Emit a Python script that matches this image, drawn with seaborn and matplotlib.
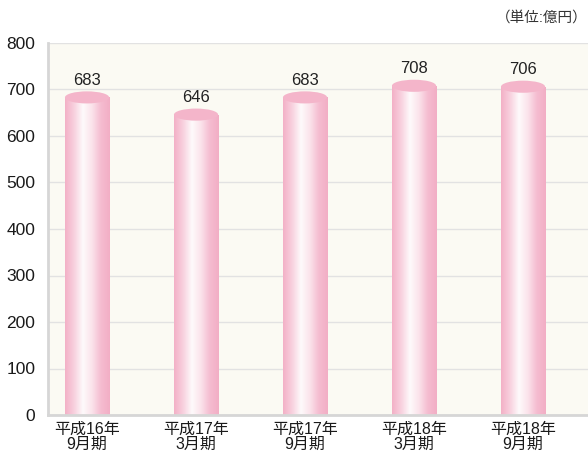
import numpy as np
import pandas as pd
import matplotlib
matplotlib.use("Agg")
import matplotlib.pyplot as plt
import seaborn as sns
from matplotlib.patches import Ellipse
from matplotlib.colors import LinearSegmentedColormap

categories = ["平成16年\n9月期", "平成17年\n3月期", "平成17年\n9月期", "平成18年\n3月期", "平成18年\n9月期"]
values = [683, 646, 683, 708, 706]
yticks = [0, 100, 200, 300, 400, 500, 600, 700, 800]
unit_label = "（単位:億円）"

sns.set_theme(style="white")
plt.rcParams['font.family'] = ['Liberation Sans', 'Noto Sans CJK JP', 'DejaVu Sans']

df = pd.DataFrame({"cat": categories, "val": values})

fig = plt.figure(figsize=(5.88, 4.62), dpi=100)
ax = fig.add_axes([48/588, 1-415/462, 1-48/588, (415-43)/462])
ax.set_facecolor("#fbfaf3")

sns.barplot(data=df, x="cat", y="val", ax=ax, width=0.405, color="#f4b6cb",
            saturation=1, zorder=3)

cmap = LinearSegmentedColormap.from_list(
    "cyl", ["#f3b0c6", "#f8d0de", "#fefafb", "#fbe3eb", "#f5bcd0", "#f2aec5"])
grad = np.linspace(0, 1, 256).reshape(1, -1)
ell_h = 26
for p, v in zip(ax.patches, values):
    x0 = p.get_x(); w = p.get_width()
    im = ax.imshow(grad, cmap=cmap, aspect="auto", extent=[x0, x0 + w, 0, v],
                   zorder=4, interpolation="bilinear")
    im.set_clip_path(p)
    p.set_edgecolor("none")
    e = Ellipse((x0 + w / 2, v), w, ell_h, facecolor="#f4b5ca", edgecolor="none", zorder=5)
    ax.add_patch(e)
    ax.text(x0 + w / 2, v + ell_h / 2 + 8, f"{v}", ha="center", va="bottom",
            fontsize=12, color="#222222", zorder=6)

ax.set_xlim(-0.358, 4.596)
ax.set_ylim(0, 800)
ax.set_yticks(yticks)
ax.set_yticklabels([str(t) for t in yticks], fontsize=12.5, color="#1a1a1a")
ax.tick_params(axis="y", length=0, pad=9)
ax.tick_params(axis="x", length=0, pad=5, labelsize=11.5, labelcolor="#1a1a1a")
for lab in ax.get_xticklabels():
    lab.set_linespacing(1.0)
ax.set_xlabel("")
ax.set_ylabel("")
ax.grid(axis="y", color="#e2e2e2", linewidth=1, zorder=0)
ax.set_axisbelow(True)
for s in ["top", "right"]:
    ax.spines[s].set_visible(False)
ax.spines["left"].set_color("#d6d6d6")
ax.spines["left"].set_linewidth(2)
ax.spines["bottom"].set_color("#d6d6d6")
ax.spines["bottom"].set_linewidth(2)
ax.spines["left"].set_zorder(7)
ax.spines["bottom"].set_zorder(7)

fig.text(1.0, 1 - 18/462, unit_label, ha="right", va="center", fontsize=10.5, color="#333333")

fig.savefig("out.png", dpi=100)
